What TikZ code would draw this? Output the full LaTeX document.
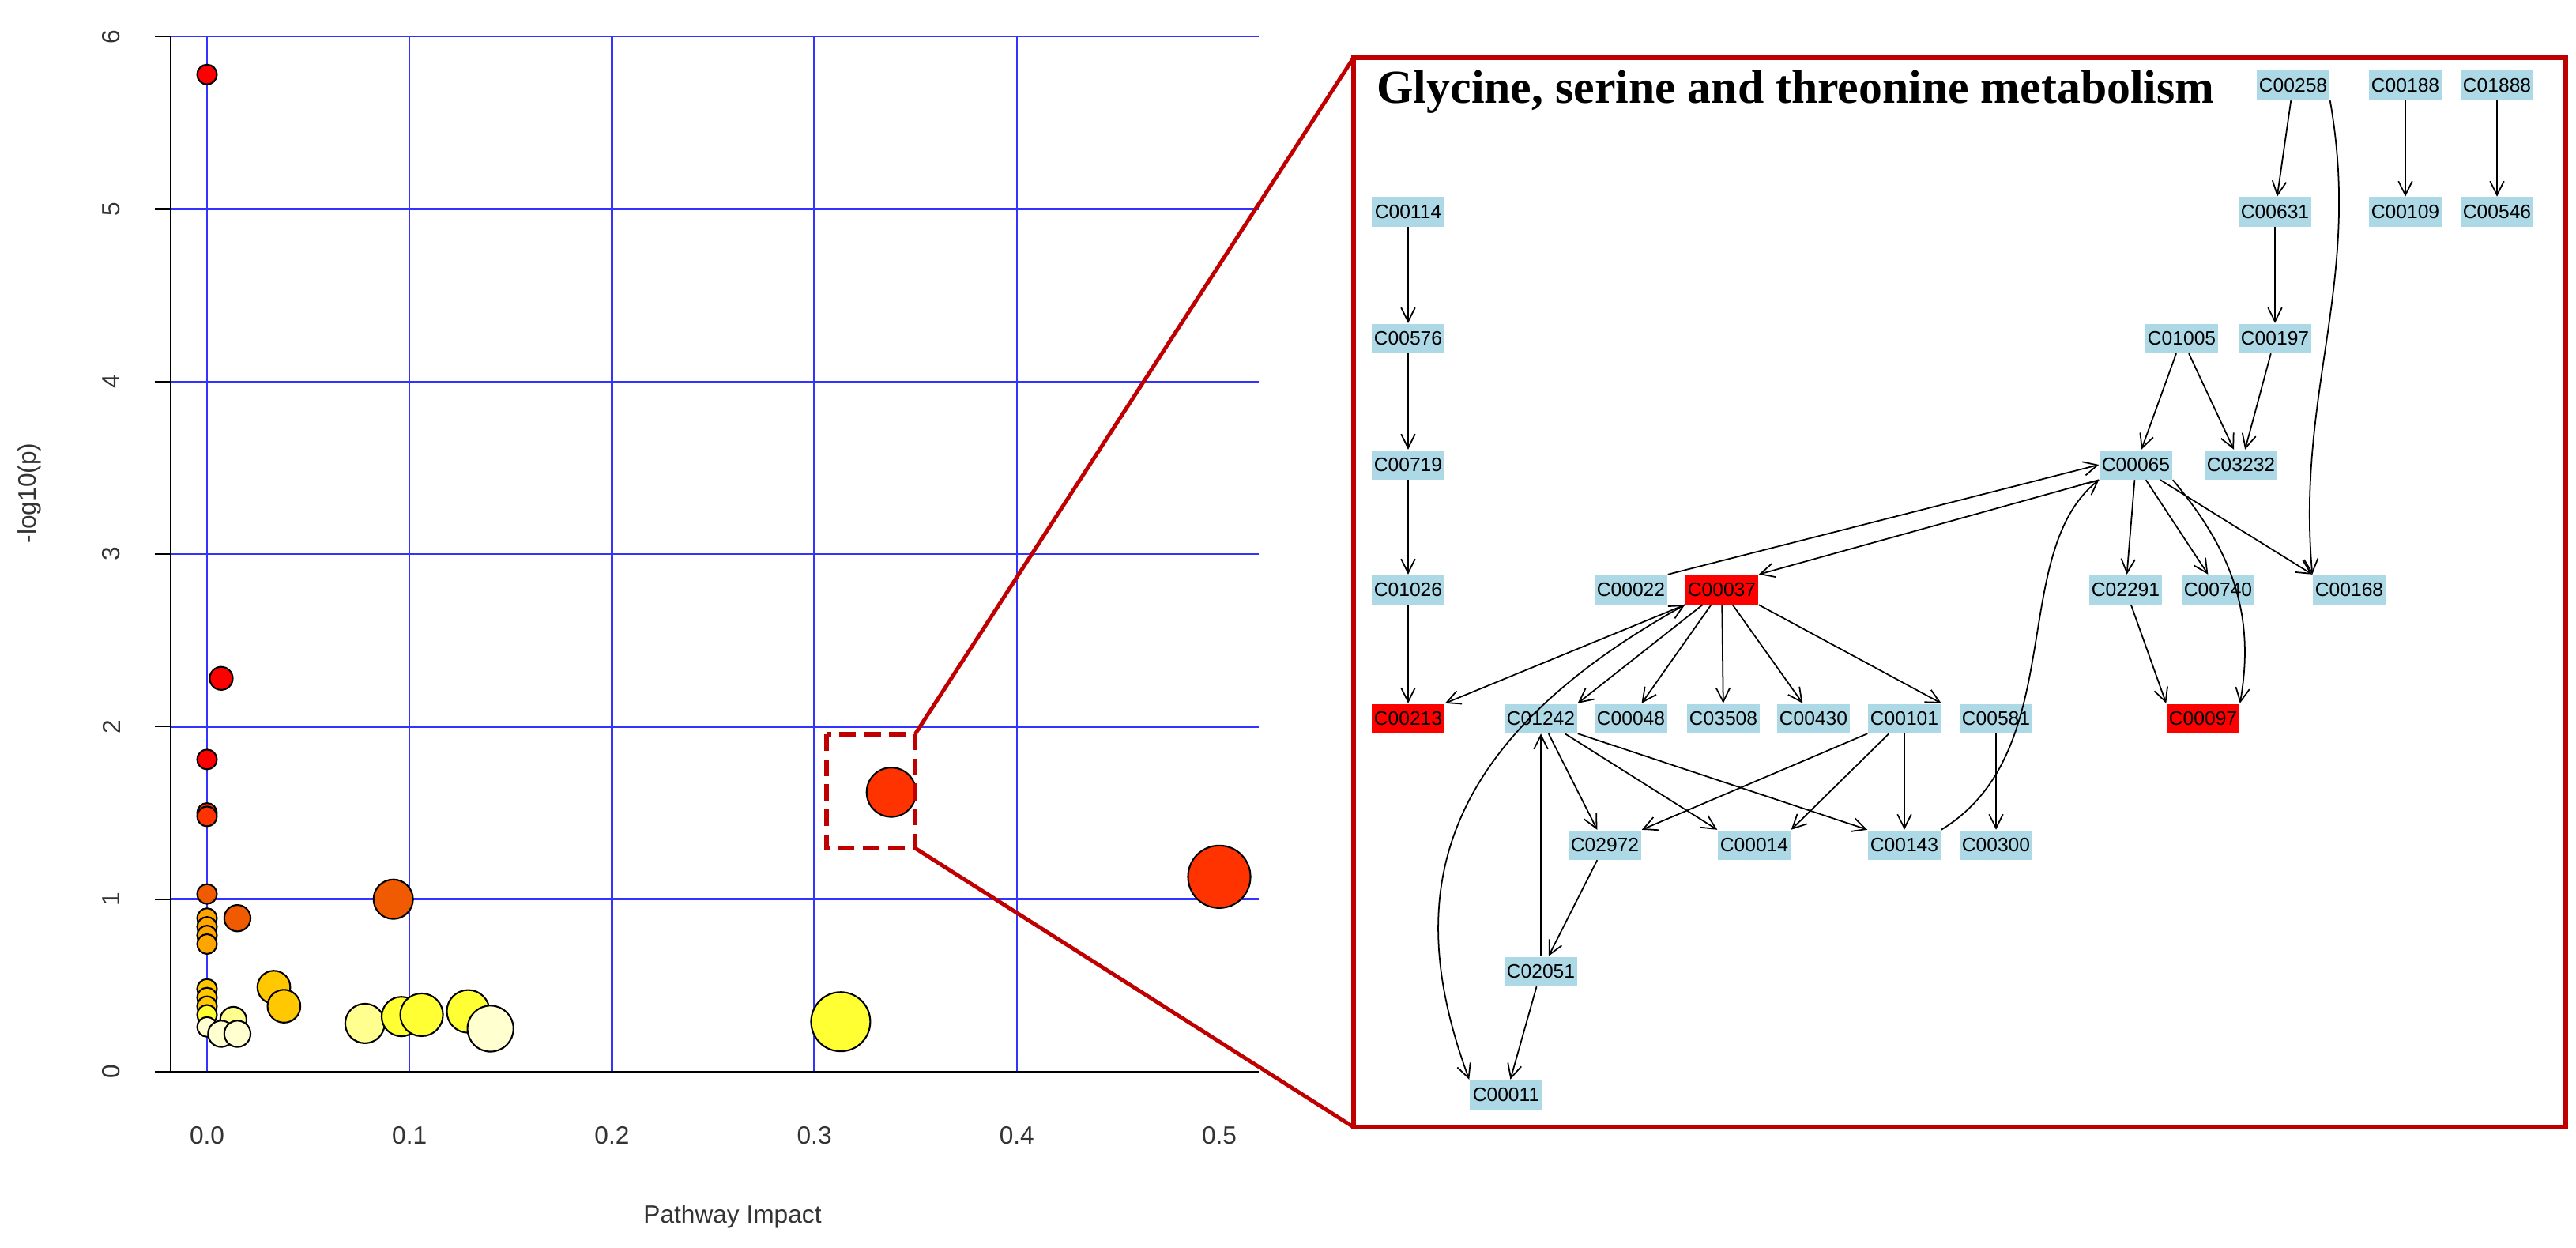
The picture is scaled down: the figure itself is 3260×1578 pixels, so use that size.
\documentclass[tikz,border=0pt]{standalone}
\usepackage{fontspec}
\setmainfont{Liberation Sans}
\newfontfamily\titlefont{Liberation Serif}
\usetikzlibrary{arrows.meta}
\definecolor{gridblue}{HTML}{3333FF}
\definecolor{nodeblue}{HTML}{ADD8E6}
\definecolor{boxred}{HTML}{C00000}
\definecolor{cA}{HTML}{FF0000}
\definecolor{cB}{HTML}{FF3300}
\definecolor{cC}{HTML}{F05A00}
\definecolor{cD}{HTML}{FFA500}
\definecolor{cE}{HTML}{FFC800}
\definecolor{cF}{HTML}{FFFF33}
\definecolor{cG}{HTML}{FFFF90}
\definecolor{cH}{HTML}{FFFFD0}
\tikzset{
  cpd/.style={fill=nodeblue,minimum width=0.92cm,minimum height=0.37cm,inner sep=0pt,font=\fontsize{7}{8}\selectfont},
  hit/.style={cpd,fill=red},
  edge/.style={-{Straight Barb[length=5pt,width=5pt]},line width=0.5pt},
  bub/.style={draw=black,line width=0.6pt},
  tick/.style={font=\fontsize{9}{10}\selectfont,text=black!80}
}
\newcommand{\bubble}[4]{\filldraw[bub,fill=#4] ({262+#1*2562},{1356-#2*218.3}) circle (#3*2.08);}
\begin{document}
\begin{tikzpicture}[x=0.01cm,y=-0.01cm]
\useasboundingbox (0,0) rectangle (3260,1578);
% grid
\foreach \v in {0,0.1,...,0.5} \draw[gridblue,line width=0.7pt] ({262+\v*2562},46) -- ({262+\v*2562},1356);
\foreach \v in {0,...,6} \draw[gridblue,line width=0.7pt] (216,{1356-\v*218.3}) -- (1593,{1356-\v*218.3});
\draw[black,line width=0.6pt] (216,46) -- (216,1356);
\foreach \v in {0,...,6} {\draw[line width=0.6pt] (196,{1356-\v*218.3}) -- (216,{1356-\v*218.3});
  \node[tick,rotate=90] (yt\v) at (141,{1356-\v*218.3}) {\v};}
\draw[line width=0.6pt] (216,1356) -- (1593,1356);
\foreach \v/\l in {0/0.0,1/0.1,2/0.2,3/0.3,4/0.4,5/0.5} \node[tick] (xt\v) at ({262+\v*256.2},1437) {\l};
\node[tick] (xl) at (927,1539) {Pathway Impact};
\node[tick,rotate=90] (yl) at (37,624) {-log10(p)};
% bubbles
\bubble{0}{5.78}{6}{cA}
\bubble{0.007}{2.28}{7}{cA}
\bubble{0}{1.81}{6}{cA}
\bubble{0}{1.5}{6}{cB}
\bubble{0}{1.48}{6}{cB}
\bubble{0}{1.03}{6}{cC}
\bubble{0}{0.89}{6}{cD}
\bubble{0}{0.84}{6}{cD}
\bubble{0}{0.79}{6}{cD}
\bubble{0}{0.74}{6}{cD}
\bubble{0.015}{0.89}{8}{cC}
\bubble{0.092}{1.0}{12}{cC}
\bubble{0}{0.48}{6}{cE}
\bubble{0}{0.43}{6}{cE}
\bubble{0}{0.38}{6}{cE}
\bubble{0}{0.33}{6}{cF}
\bubble{0}{0.26}{6}{cH}
\bubble{0.013}{0.3}{8}{cG}
\bubble{0.007}{0.22}{8}{cH}
\bubble{0.015}{0.22}{8}{cH}
\bubble{0.033}{0.49}{10}{cE}
\bubble{0.038}{0.38}{10}{cE}
\bubble{0.078}{0.28}{12}{cG}
\bubble{0.096}{0.32}{12}{cF}
\bubble{0.106}{0.33}{13}{cF}
\bubble{0.129}{0.35}{13}{cF}
\bubble{0.14}{0.25}{14}{cH}
\bubble{0.313}{0.29}{18}{cF}
\bubble{0.338}{1.62}{15}{cB}
\bubble{0.5}{1.13}{19}{cB}
% zoom box
\coordinate (zt) at (1158,929); \coordinate (zb) at (1158,1073);
\draw[boxred,dashed,line width=1.6pt,dash pattern=on 6pt off 3pt] (1046,929) rectangle (1158,1073);
\draw[boxred,line width=1.6pt] (1713,73) rectangle (3247,1426);
\coordinate (bt) at (1713,73); \coordinate (bb) at (1713,1426);
\draw[boxred,line width=1.4pt] (zt) -- (bt) (zb) -- (bb);
\node[anchor=west,font=\titlefont\bfseries\fontsize{17}{18}\selectfont] (title) at (1730,116) {Glycine, serine and threonine metabolism};
% nodes
\node[cpd] (C00258) at (2902,108) {C00258};
\node[cpd] (C00188) at (3044,108) {C00188};
\node[cpd] (C01888) at (3160,108) {C01888};
\node[cpd] (C00114) at (1782,268) {C00114};
\node[cpd] (C00631) at (2879,268) {C00631};
\node[cpd] (C00109) at (3044,268) {C00109};
\node[cpd] (C00546) at (3160,268) {C00546};
\node[cpd] (C00576) at (1782,428) {C00576};
\node[cpd] (C01005) at (2761,428) {C01005};
\node[cpd] (C00197) at (2879,428) {C00197};
\node[cpd] (C00719) at (1782,588) {C00719};
\node[cpd] (C00065) at (2703,588) {C00065};
\node[cpd] (C03232) at (2836,588) {C03232};
\node[cpd] (C01026) at (1782,746) {C01026};
\node[cpd] (C00022) at (2064,746) {C00022};
\node[hit] (C00037) at (2179,746) {C00037};
\node[cpd] (C02291) at (2690,746) {C02291};
\node[cpd] (C00740) at (2807,746) {C00740};
\node[cpd] (C00168) at (2973,746) {C00168};
\node[hit] (C00213) at (1782,909) {C00213};
\node[cpd] (C01242) at (1950,909) {C01242};
\node[cpd] (C00048) at (2064,909) {C00048};
\node[cpd] (C03508) at (2181,909) {C03508};
\node[cpd] (C00430) at (2295,909) {C00430};
\node[cpd] (C00101) at (2410,909) {C00101};
\node[cpd] (C00581) at (2526,909) {C00581};
\node[hit] (C00097) at (2788,909) {C00097};
\node[cpd] (C02972) at (2031,1069) {C02972};
\node[cpd] (C00014) at (2220,1069) {C00014};
\node[cpd] (C00143) at (2410,1069) {C00143};
\node[cpd] (C00300) at (2526,1069) {C00300};
\node[cpd] (C02051) at (1950,1229) {C02051};
\node[cpd] (C00011) at (1906,1385) {C00011};
% edges
\draw[edge] (C00114) -- (C00576);
\draw[edge] (C00576) -- (C00719);
\draw[edge] (C00719) -- (C01026);
\draw[edge] (C01026) -- (C00213);
\draw[edge] (C00258) -- (C00631);
\draw[edge] (C00631) -- (C00197);
\draw[edge] (C00188) -- (C00109);
\draw[edge] (C01888) -- (C00546);
\draw[edge] (C00258.south east) to[out=-80,in=95] (C00168.north west);
\draw[edge] (C01005) -- (C00065);
\draw[edge] (C01005) -- (C03232);
\draw[edge] (C00197) -- (C03232);
\draw[edge] (C00065.south west) -- (C00037.north east);
\draw[edge] (C00022.north east) -- (C00065.west);
\draw[edge] (C00065) -- (C02291);
\draw[edge] (C00065) -- (C00740);
\draw[edge] (C00065) -- (C00168.north west);
\draw[edge] (C00065.south east) to[out=-50,in=80] (C00097.north east);
\draw[edge] (C02291) -- (C00097.north west);
\draw[edge] (C00037.south west) -- (C00213.north east);
\draw[edge] (C00037) -- (C01242.north east);
\draw[edge] (C00037) -- (C00048);
\draw[edge] (C00037) -- (C03508);
\draw[edge] (C00037) -- (C00430);
\draw[edge] (C00037.south east) -- (C00101.north east);
\draw[{Straight Barb[length=5pt,width=5pt]}-{Straight Barb[length=5pt,width=5pt]},line width=0.5pt] (C00037.south west) .. controls (1800,950) and (1780,1150) .. (C00011.north west);
\draw[edge] (C01242) -- (C02972);
\draw[edge] (C01242) -- (C00014.north west);
\draw[edge] (C01242.south east) -- (C00143.north west);
\draw[edge] (C00101.south west) -- (C02972.north east);
\draw[edge] (C00101) -- (C00014.north east);
\draw[edge] (C00101) -- (C00143);
\draw[edge] (C00581) -- (C00300);
\draw[edge] (C02972) -- (C02051);
\draw[edge] (C02051) -- (C01242);
\draw[edge] (C02051) -- (C00011);
\draw[edge] (C00143.north east) .. controls (2620,950) and (2540,700) .. (C00065.south west);
\end{tikzpicture}
\end{document}
